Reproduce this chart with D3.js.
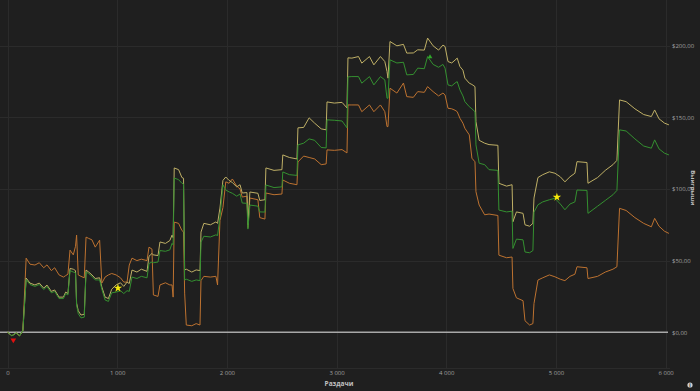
<!DOCTYPE html>
<html><head><meta charset="utf-8">
<script src="https://cdn.jsdelivr.net/npm/d3@7"></script>
<style>
html,body{margin:0;padding:0;background:#1f1f1f;}
svg{display:block;}
text{font-family:"Open Sans","DejaVu Sans",sans-serif;}
</style></head>
<body>
<script>
// ---- data ----
const hands = [0,40,80,110,140,170,205,250,290,330,360,400,430,470,510,530,551,570,600,620,630,645,670,700,716,740,770,800,840,860,890,920,950,990,1030,1060,1090,1110,1135,1180,1220,1272,1290,1317,1330,1372,1390,1440,1480,1500,1510,1520,1560,1590,1605,1615,1630,1680,1720,1755,1764,1790,1850,1900,1915,1937,1964,1990,2020,2050,2090,2120,2140,2183,2192,2210,2283,2300,2347,2356,2430,2502,2510,2570,2639,2648,2700,2750,2800,2860,2905,2913,2980,3050,3095,3104,3140,3200,3230,3300,3340,3400,3440,3460,3469,3487,3550,3610,3640,3700,3740,3800,3830,3880,3930,3970,3989,4016,4050,4080,4100,4125,4152,4170,4210,4234,4262,4271,4300,4350,4390,4471,4480,4550,4600,4608,4640,4700,4718,4760,4790,4800,4836,4880,4940,4991,5040,5082,5128,5173,5192,5283,5292,5380,5450,5520,5556,5580,5640,5720,5800,5870,5900,5940,5990,6030];
const allInAdjusted = [0,-2.5,-0.5,-2.5,1,37.8,34.3,33,34.3,30.8,32.9,28.5,29.5,24.5,24.5,28,27,44.5,44,43,20.3,15,12,12.5,43.4,42,40,37.5,38,31.5,24.5,23.5,30,33,34.5,32,35,34,43.4,42,44,42.5,53,55,54,53.5,63,62,64,67.8,66,114.7,113.5,108,107.5,43.4,44,42,43.5,43,69.9,76,75,77,76,86.7,106,108.4,106,104.5,101.5,103,97.2,97.5,75,97.9,97,92,92.5,114.7,113,113.5,123.8,122,121,142.7,143,149.7,146,142,141.3,160.8,160,160.5,156.6,191.6,191.4,192.5,187.9,192.5,186.7,192.5,189,182,177.4,203,200,201,194.9,195,197.2,197,205.4,200,197,200.5,199.5,189,188,190,191.4,185.5,183,177.4,173.9,173,171.5,147,134,132,131,130.5,104,102,103,77.1,84,83,75,74,76,93.7,108,110,112,111,108.5,105,108.5,111,119.1,118.5,104,108,113,117,120,162.2,161,156,152,150.6,155.2,149,146,144.8];
const netWon = [0,-2.5,-0.5,-2.5,1,36.8,33.3,32,33.3,29.8,31.9,27.5,28.5,23.5,23.5,27,26,43,42,41.5,19,13,10,10.5,42,41,39,36.5,36.5,30,22.5,21.5,27.5,28,29,27,29,28.5,38.5,37.5,39,38,48,49,48.5,49,57,56.5,57.5,62,61,107.7,106.5,104,103.5,36.4,37,35.5,36.5,36,62.9,67,66.5,68,67.5,80.4,103,99.3,98,97,95,96.5,90.2,90,72,88.8,88,84,83.9,102.8,101,101.5,111.9,110,109.5,130.8,132,135,134,129,128.7,148.3,148,147.5,142.7,178.3,178.5,178.5,173.9,178.5,172.7,178.5,176.2,163.4,163.4,190.2,188,188.5,179.7,180,184.4,184,192.5,187,185,187,184.4,172.7,172,174,175,169.2,165,161,157.5,156,154,130.8,118,117,113.5,113,85.3,84,84.5,58.5,65,64.5,56,55.5,57,83.9,89,91,92.5,93.5,89.5,85.5,89.5,91,99.3,99,83,88,92,96,99,141.3,140.5,135,130,128.5,134.3,128,125,123.8];
const withoutShowdown = [0,-2.5,-0.5,-2.5,1,51.7,47.5,46.9,48.5,45,47,43,45,40,38.5,39.5,40.5,57.3,54,60,67.8,40,39,38,66.4,65.5,64.5,59.4,64.3,34.3,38.5,40,41,40,38,35,35,46.9,51.7,50,51,50,59.4,58,26,25,33,34.5,33,33,24.5,76.9,76,71,70,27.3,5,4.5,6,5,36,39,38.5,39,33,78,87,105,104,107,102,100,94.4,95,73,93.7,92.5,80,79,97.2,96,96.5,106.3,104,103,118.9,123,122,121,117,117.5,127.3,127,127.5,125.2,158.7,158.7,158.7,154,158.7,154,158.7,154,143.6,143.6,170.4,167,174,164.5,164,168,167.5,171.5,168,165,167,165.7,156.4,156,155,154,149.4,146,142.4,137.8,121.5,119,98.1,88.8,82,82.5,81.5,53.8,52,52.5,30.5,24,22,8,5,6,20,36.4,38,40,38.7,37,36,39,40.5,45.7,45,37.5,39,42,44,45.7,86.5,85,80,76,73.6,79.5,74,70.5,69];
const xTickValues = [0,1000,2000,3000,4000,5000,6000];
const xTickLabels = ["0","1 000","2 000","3 000","4 000","5 000","6 000"];
const yTickValues = [0,50,100,150,200];
const yTickLabels = ["$0,00","$50,00","$100,00","$150,00","$200,00"];
const starMarks = [{h:1007, v:30.8},{h:5009, v:94.3}];
const redMark = [{h:53, v:-5.5}];
const greenMark = [{h:3852, v:192.2}];

// ---- layout ----
const W = 700, H = 391;
const svg = d3.select("body").append("svg").attr("width", W).attr("height", H);
svg.append("rect").attr("width", W).attr("height", H).attr("fill", "#1f1f1f");

const x = d3.scaleLinear().domain([0, 6040]).range([7.5, 670]);
const y = d3.scaleLinear().domain([-25, 225]).range([368, 10]);

// grid
const grid = svg.append("g");
grid.selectAll(".vg").data(xTickValues).join("line")
  .attr("x1", d => Math.round(x(d)) + 0.5).attr("x2", d => Math.round(x(d)) + 0.5)
  .attr("y1", 0).attr("y2", 368).attr("stroke", "#2b2b2b").attr("stroke-width", 1);
grid.selectAll(".hg").data(yTickValues.filter(d => d !== 0)).join("line")
  .attr("x1", 0).attr("x2", 670).attr("y1", d => Math.round(y(d)) + 0.5).attr("y2", d => Math.round(y(d)) + 0.5)
  .attr("stroke", "#2b2b2b").attr("stroke-width", 1);
grid.append("line").attr("x1", 0).attr("x2", 670).attr("y1", 368.5).attr("y2", 368.5)
  .attr("stroke", "#2b2b2b").attr("stroke-width", 1);

// zero line
svg.append("line").attr("x1", 0).attr("x2", 668).attr("y1", y(0)).attr("y2", y(0))
  .attr("stroke", "#a8a8a8").attr("stroke-width", 1.5);

// axes (labels only)
const xAxis = d3.axisBottom(x).tickValues(xTickValues).tickSize(0).tickPadding(0)
  .tickFormat((d, i) => xTickLabels[i]);
const gx = svg.append("g").attr("transform", "translate(0,371)").call(xAxis);
gx.select(".domain").remove();
gx.selectAll("text").attr("fill", "#a0a0a0").attr("font-size", "6px");

const yAxis = d3.axisRight(y).tickValues(yTickValues).tickSize(0).tickPadding(0)
  .tickFormat((d, i) => yTickLabels[i]);
const gy = svg.append("g").attr("transform", "translate(672,0)").call(yAxis);
gy.select(".domain").remove();
gy.selectAll("text").attr("fill", "#a0a0a0").attr("font-size", "6px");

// axis titles
svg.append("text").attr("x", 339).attr("y", 385.5).attr("text-anchor", "middle")
  .attr("fill", "#c0c0c0").attr("font-size", "6.5px").attr("font-weight", "bold").text("Раздачи");
svg.append("text").attr("transform", "translate(691,188) rotate(90)").attr("text-anchor", "middle")
  .attr("fill", "#c0c0c0").attr("font-size", "6px").attr("font-weight", "bold").text("Выигрыши");

// lines
const mk = arr => d3.line().x((d, i) => x(hands[i])).y((d, i) => y(arr[i])).curve(d3.curveLinear);
const series = [
  {vals: withoutShowdown, color: "#bd7230"},
  {vals: allInAdjusted, color: "#bfb066"},
  {vals: netWon, color: "#349030"}
];
series.forEach(s => {
  svg.append("path").datum(s.vals).attr("d", mk(s.vals)).attr("fill", "none")
    .attr("stroke", s.color).attr("stroke-width", 1).attr("stroke-linejoin", "miter");
});

// markers
svg.selectAll(".star").data(starMarks).join("path")
  .attr("transform", d => `translate(${x(d.h)},${y(d.v)})`)
  .attr("d", d3.symbol(d3.symbolStar, 22)).attr("fill", "#f5e90a");
svg.selectAll(".red").data(redMark).join("path")
  .attr("transform", d => `translate(${x(d.h)},${y(d.v)}) rotate(180)`)
  .attr("d", d3.symbol(d3.symbolTriangle, 14)).attr("fill", "#e01010");
svg.selectAll(".gm").data(greenMark).join("path")
  .attr("transform", d => `translate(${x(d.h)},${y(d.v)})`)
  .attr("d", d3.symbol(d3.symbolTriangle, 10)).attr("fill", "#2fa82a");

// info icon
svg.append("circle").attr("cx", 690).attr("cy", 385).attr("r", 2.6).attr("fill", "#d0d0d0");
svg.append("text").attr("x", 690).attr("y", 386.8).attr("text-anchor", "middle")
  .attr("font-size", "4.5px").attr("font-weight", "bold").attr("fill", "#1f1f1f").text("i");
</script>
</body></html>
